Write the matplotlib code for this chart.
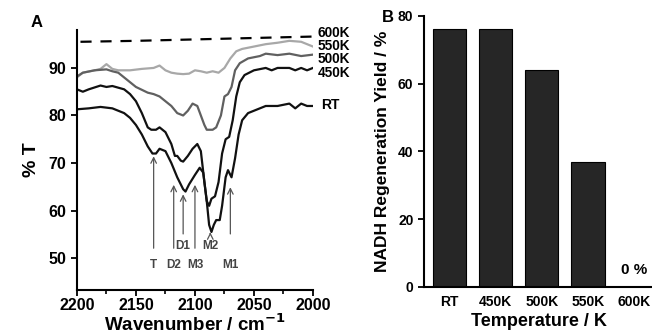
import matplotlib
matplotlib.use('Agg')
import matplotlib.pyplot as plt
import numpy as np

plt.rcParams['font.family'] = 'Liberation Sans'
plt.rcParams['font.weight'] = 'bold'
plt.rcParams['axes.labelweight'] = 'bold'

# IR spectra (wavenumber, %T)
wn_rt = [2200, 2190, 2180, 2170, 2160, 2155, 2150, 2145, 2140, 2136, 2133, 2130, 2125, 2120, 2115,
         2110, 2108, 2105, 2100, 2096, 2093, 2090, 2088, 2086, 2084, 2082, 2079, 2077, 2074, 2072,
         2069, 2066, 2063, 2060, 2055, 2050, 2040, 2030, 2020, 2015, 2010, 2005, 2000]
t_rt = [81.3, 81.5, 81.8, 81.5, 80.5, 79.5, 78, 76, 73.5, 72, 72, 73, 72.5, 70, 67,
        64.5, 64, 65.5, 67.5, 69, 68, 62, 57, 55.5, 57, 58, 58, 61, 67, 68.5,
        67, 71, 76, 79, 80.5, 81, 82, 82, 82.5, 81.5, 82.5, 82, 82]

wn_450 = [2200, 2195, 2190, 2180, 2175, 2170, 2160, 2155, 2150, 2145, 2140, 2137, 2133, 2130, 2125,
          2120, 2117, 2115, 2112, 2110, 2106, 2102, 2098, 2095, 2092, 2090, 2088, 2086, 2083, 2080,
          2077, 2074, 2071, 2068, 2065, 2062, 2058, 2050, 2040, 2035, 2030, 2020, 2015, 2010, 2005, 2000]
t_450 = [85.5, 85, 85.5, 86.3, 86, 86.2, 85.5, 84.5, 83, 80.5, 77.5, 77, 77, 77.5, 76.5,
         74, 71.5, 71.5, 70.5, 70.3, 71.5, 73, 74, 72.5, 66, 62, 61, 62.5, 63, 66,
         72, 75, 75.5, 79, 84, 87, 88.5, 89.5, 90, 89.5, 90, 90, 89.5, 90, 89.5, 90]

wn_500 = [2200, 2195, 2185, 2175, 2170, 2165, 2160, 2155, 2150, 2140, 2135, 2130, 2125, 2120, 2115,
          2110, 2106, 2102, 2098, 2095, 2092, 2090, 2085, 2082, 2078, 2075, 2072, 2069, 2066, 2062,
          2055, 2045, 2040, 2030, 2020, 2010, 2000]
t_500 = [88.2, 89, 89.5, 89.7, 89.3, 89, 88, 87, 86, 84.8, 84.5, 84, 83, 82, 80.5,
         80, 81, 82.5, 82, 80, 78, 77, 77, 77.5, 80, 84, 84.5, 86, 89.5, 91,
         92, 92.5, 93, 92.7, 93, 92.5, 92.8]

wn_550 = [2200, 2195, 2185, 2180, 2175, 2170, 2165, 2155, 2145, 2135, 2130, 2125, 2120, 2115, 2110,
          2105, 2100, 2095, 2090, 2085, 2080, 2075, 2070, 2065, 2060, 2050, 2040, 2030, 2020, 2010, 2000]
t_550 = [88, 89, 89.5, 89.8, 90.8, 89.8, 89.5, 89.5, 89.8, 90, 90.5, 89.5, 89, 88.8, 88.7,
         88.8, 89.5, 89.3, 89, 89.3, 89, 90, 92, 93.5, 94, 94.5, 95, 95.3, 95.7, 95.5, 94.5]

wn_600 = [2197, 2150, 2100, 2050, 2000]
t_600 = [95.5, 95.7, 96, 96.3, 96.6]

# peak assignments: position, arrow tail, arrow head, label, label y
peak_wn = [2135, 2118, 2110, 2100, 2087, 2070]
peak_tail = [51.5, 51.5, 54.5, 51.5, 54.5, 54.5]
peak_head = [72, 66, 64, 66, 56, 65.5]
peak_names = ['T', 'D2', 'D1', 'M3', 'M2', 'M1']
peak_label_y = [48.5, 48.5, 52.5, 48.5, 52.5, 48.5]

# bar chart
temps = ['RT', '450K', '500K', '550K', '600K']
yields = [76, 76, 64, 37, 0]

fig = plt.figure(figsize=(6.52, 3.36), dpi=100)

ax = fig.add_axes([0.118, 0.137, 0.362, 0.774])
ax.plot(wn_600, t_600, color='black', lw=1.6, ls=(0, (5, 4)))
ax.plot(wn_550, t_550, color='#a8a8a8', lw=1.6)
ax.plot(wn_500, t_500, color='#606060', lw=1.6)
ax.plot(wn_450, t_450, color='#111111', lw=1.6)
ax.plot(wn_rt, t_rt, color='#111111', lw=1.6)

for w, y0, y1, name, ly in zip(peak_wn, peak_tail, peak_head, peak_names, peak_label_y):
    ax.annotate('', xy=(w, y1), xytext=(w, y0),
                arrowprops=dict(arrowstyle='->', color='#555555', lw=0.9))
    ax.text(w, ly, name, ha='center', va='center', fontsize=8.5, color='#444444')

ax.set_xlim(2200, 2000)
ax.set_ylim(43.3, 98)
ax.set_xticks([2200, 2150, 2100, 2050, 2000])
ax.set_xticks([2175, 2125, 2075, 2025], minor=True)
ax.set_yticks([50, 60, 70, 80, 90])
ax.spines['top'].set_visible(False)
ax.spines['right'].set_visible(False)
ax.spines['left'].set_linewidth(1.5)
ax.spines['bottom'].set_linewidth(1.5)
ax.tick_params(labelsize=11.5, width=1.3, length=4)
ax.tick_params(axis='x', pad=2)
ax.tick_params(which='minor', width=1.2, length=3)
for t in ax.get_xticklabels() + ax.get_yticklabels():
    t.set_fontweight('bold')
ax.set_xlabel('Wavenumber / cm$^{\\mathbf{-1}}$', fontsize=13.5, labelpad=0)
ax.set_ylabel('% T', fontsize=14, labelpad=6)

for lab, y in zip(['600K', '550K', '500K', '450K'], [97.4, 94.6, 91.8, 89.0]):
    ax.text(1996, y, lab, fontsize=9.8, va='center', ha='left', clip_on=False)
ax.text(1993, 82.3, 'RT', fontsize=10, va='center', ha='left', clip_on=False)
fig.text(0.047, 0.92, 'A', fontsize=12)

bx = fig.add_axes([0.650, 0.146, 0.352, 0.807])
x = np.arange(len(temps))
bx.bar(x, yields, width=0.72, color='#262626', edgecolor='black', lw=0.8)
bx.set_xticks(x)
bx.set_xticklabels(temps)
bx.set_xlim(-0.55, 4.41)
bx.set_ylim(0, 80)
bx.set_yticks([0, 20, 40, 60, 80])
bx.spines['top'].set_visible(False)
bx.spines['right'].set_visible(False)
bx.spines['left'].set_linewidth(1.5)
bx.spines['bottom'].set_linewidth(1.5)
bx.tick_params(axis='y', labelsize=10, width=1.3, length=4)
bx.tick_params(axis='x', labelsize=10, length=0, pad=6)
for t in bx.get_xticklabels() + bx.get_yticklabels():
    t.set_fontweight('bold')
bx.text(4, 5, '0 %', fontsize=11, ha='center', va='center')
bx.set_xlabel('Temperature / K', fontsize=13, labelpad=3)
bx.set_ylabel('NADH Regeneration Yield / %', fontsize=12.5, labelpad=6)
fig.text(0.585, 0.935, 'B', fontsize=12)

fig.savefig('out.png', dpi=100)
